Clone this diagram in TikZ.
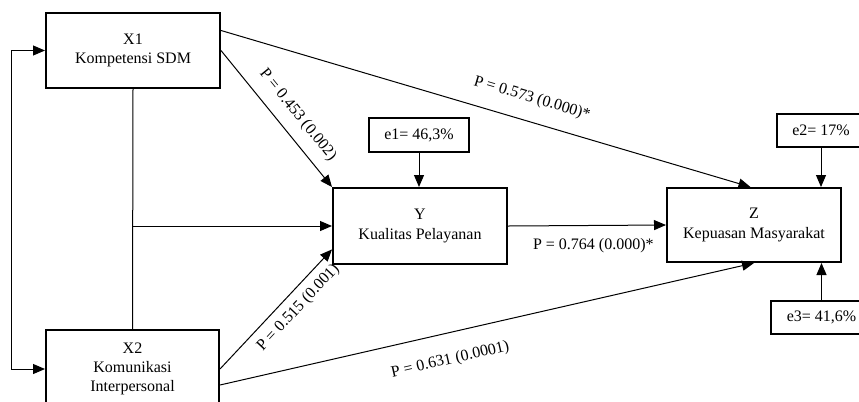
\documentclass[tikz,border=0pt]{standalone}
\usepackage{fontspec}
\setmainfont{Liberation Serif}
\usetikzlibrary{arrows.meta,calc}

\begin{document}
\begin{tikzpicture}[x=0.75pt,y=-0.75pt,font=\fontsize{12}{14.5}\selectfont,
    >={Triangle[length=9pt,width=7.5pt]}]
        \useasboundingbox (0,0) rectangle (859,401);

        \begin{scope}[every node/.style={rectangle,draw,line width=1.5pt,align=center,inner sep=0pt}]
          \node[minimum width=130.5pt,minimum height=56.25pt] (x1) at (133,50.5)  {X1\\Kompetensi SDM};
          \node[minimum width=129.75pt,minimum height=58.5pt] (x2) at (132.5,369) {X2\\Komunikasi\\Interpersonal};
          \node[minimum width=130.5pt,minimum height=57pt]    (y)  at (420,226)  {Y\\Kualitas Pelayanan};
          \node[minimum width=130.5pt,minimum height=55.5pt]  (z)  at (754,225)  {Z\\Kepuasan Masyarakat};
          \node[minimum width=75pt,minimum height=25.5pt]     (e1) at (419,135)  {e1= 46,3\%};
          \node[minimum width=66pt,minimum height=24.75pt]    (e2) at (821,130.5) {e2= 17\%};
          \node[minimum width=75.75pt,minimum height=24.75pt] (e3) at (821.5,317.5) {e3= 41,6\%};
        \end{scope}

        \coordinate (split) at (x1.south |- y.west);

        \begin{scope}[every edge/.style={draw,line width=0.75pt,->}]
          \path (e1.south) edge (e1.south |- y.north);
          \path (e2.south) edge (e2.south |- z.north);
          \path (e3.north) edge (e3.north |- z.south);
          \path (x1.east)  edge node[sloped,above=5pt,pos=0.56] {P = 0.453 (0.002)} (y.north west);
          \path ($(x1.north east)!0.24!(x1.south east)$) edge node[sloped,above=8pt,pos=0.575] {P = 0.573 (0.000)*} ($(z.north west)!0.48!(z.north east)$);
          \path (x2.east)  edge node[sloped,below=2.5pt,pos=0.6] {P = 0.515 (0.001)} ($(y.north west)!0.8!(y.south west)$);
          \path ($(x2.north east)!0.7!(x2.south east)$) edge node[sloped,below=11pt,pos=0.42] {P = 0.631 (0.0001)} (z.south);
          \path (y.east)   edge node[below=6pt,pos=0.54] {P = 0.764 (0.000)*} (z.west);
          \path (split)    edge (y.west);
        \end{scope}

        \draw[line width=0.75pt] (x1.south) -- (x2.north);
        \draw[line width=0.75pt,<->] (x1.west) -- ++(-34,0) |- (x2.west);

      \end{tikzpicture}
\end{document}
